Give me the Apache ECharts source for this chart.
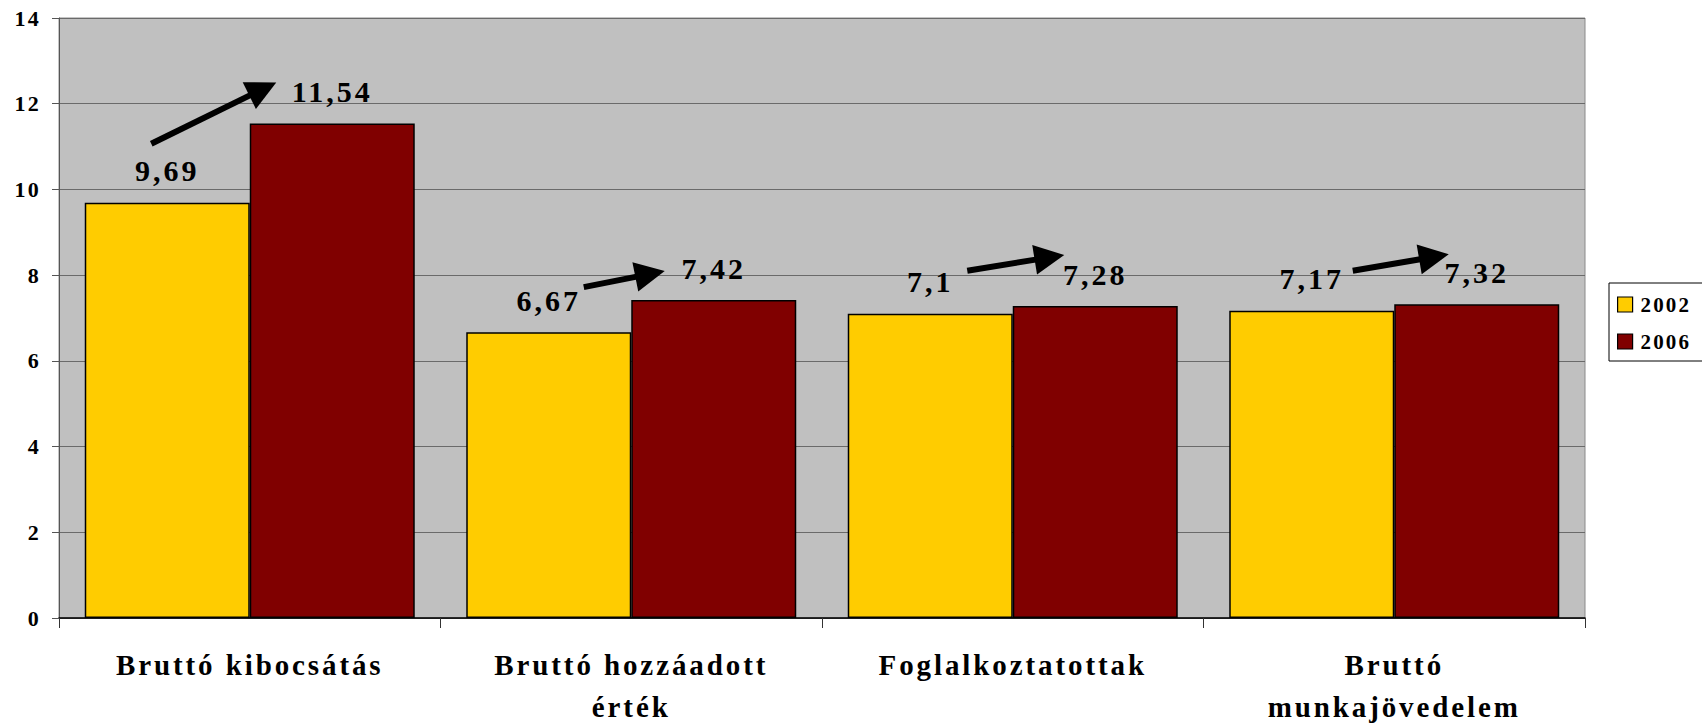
<!DOCTYPE html>
<html>
<head>
<meta charset="utf-8">
<script src="https://cdn.jsdelivr.net/npm/echarts@6/dist/echarts.min.js"></script>
<style>
  html, body { margin: 0; padding: 0; background: #ffffff; }
  #chart { width: 1702px; height: 728px; }
  #chart text { letter-spacing: 0.1em; }
</style>
</head>
<body>
<div id="chart"></div>
<script>
// ---- data ----
const categories = ['Bruttó kibocsátás', 'Bruttó hozzáadott\nérték', 'Foglalkoztatottak', 'Bruttó\nmunkajövedelem'];
const seriesNames = ['2002', '2006'];
const values2002 = [9.69, 6.67, 7.1, 7.17];
const values2006 = [11.54, 7.42, 7.28, 7.32];
const yMin = 0, yMax = 14, yInterval = 2;

// ---- annotation arrow layout (pixel offsets from the bar tops) ----
const arrowLayout = [
  { tail: [-16, -59], tip: [-56, -41] },
  { tail: [35, -45],  tip: [-49, -29] },
  { tail: [37, -43],  tip: [-31, -51] },
  { tail: [41, -40],  tip: [-28, -50] }
];
const catGapPct = 13.5;

const FONT = 'Liberation Serif';
const fmt = v => String(v).replace('.', ',');

const chart = echarts.init(document.getElementById('chart'), null, { renderer: 'svg' });

const arrowData = categories.map((c, i) => [i, values2002[i], values2006[i]]);

function renderArrow(params, api) {
  const i = api.value(0);
  const band = api.size([1, 0])[0];
  const barW = band * (1 - catGapPct / 100) / 2;
  const pY = api.coord([i, api.value(1)]);
  const pR = api.coord([i, api.value(2)]);
  const lay = arrowLayout[i];
  const S = [pY[0] - barW / 2 + lay.tail[0], pY[1] + lay.tail[1]];
  const T = [pR[0] + barW / 2 + lay.tip[0], pR[1] + lay.tip[1]];
  const dx = T[0] - S[0], dy = T[1] - S[1];
  const len = Math.sqrt(dx * dx + dy * dy);
  const ux = dx / len, uy = dy / len;
  const L = 30, W = 15;
  const B = [T[0] - L * ux, T[1] - L * uy];
  const nx = -uy, ny = ux;
  return {
    type: 'group',
    children: [
      { type: 'line', shape: { x1: S[0], y1: S[1], x2: B[0] + 4 * ux, y2: B[1] + 4 * uy },
        style: { stroke: '#000', lineWidth: 6 } },
      { type: 'polygon', shape: { points: [T, [B[0] + W * nx, B[1] + W * ny], [B[0] - W * nx, B[1] - W * ny]] },
        style: { fill: '#000' } }
    ]
  };
}

const option = {
  animation: false,
  backgroundColor: '#ffffff',
  grid: {
    left: 59, right: 117, top: 18, bottom: 105,
    show: true, backgroundColor: '#c0c0c0', borderColor: '#8a8a8a', borderWidth: 1
  },
  legend: {
    orient: 'vertical',
    left: 1609, top: 283,
    padding: [11, 20, 9, 8],
    itemWidth: 15, itemHeight: 15, itemGap: 16,
    backgroundColor: '#ffffff', borderColor: '#000000', borderWidth: 1, borderRadius: 0,
    icon: 'rect',
    itemStyle: { borderColor: '#000', borderWidth: 1.2 },
    textStyle: { fontFamily: FONT, fontWeight: 'bold', fontSize: 21, color: '#000', padding: [0, 0, 0, 3] },
    data: seriesNames
  },
  xAxis: {
    type: 'category',
    data: categories,
    axisLine: { show: true, lineStyle: { color: '#000', width: 1.5 } },
    axisTick: { show: true, length: 10, lineStyle: { color: '#333', width: 1 } },
    axisLabel: {
      fontFamily: FONT, fontWeight: 'bold', fontSize: 29, color: '#000',
      margin: 26, lineHeight: 42, interval: 0
    },
    splitLine: { show: false }
  },
  yAxis: {
    type: 'value',
    min: yMin, max: yMax, interval: yInterval,
    axisLine: { show: true, lineStyle: { color: '#555', width: 1 } },
    axisTick: { show: true, length: 7, lineStyle: { color: '#555', width: 1 } },
    axisLabel: { fontFamily: FONT, fontWeight: 'bold', fontSize: 22, color: '#000', margin: 18 },
    splitLine: { show: true, lineStyle: { color: '#6a6a6a', width: 1 } }
  },
  series: [
    {
      name: seriesNames[0], type: 'bar', data: values2002,
      barGap: '0%', barCategoryGap: catGapPct + '%',
      itemStyle: { color: '#ffcc00', borderColor: '#000', borderWidth: 1.5 },
      label: {
        show: true, position: 'top', distance: 17, formatter: p => fmt(p.value),
        fontFamily: FONT, fontWeight: 'bold', fontSize: 30, color: '#000'
      }
    },
    {
      name: seriesNames[1], type: 'bar', data: values2006,
      barGap: '0%', barCategoryGap: catGapPct + '%',
      itemStyle: { color: '#800000', borderColor: '#000', borderWidth: 1.5 },
      label: {
        show: true, position: 'top', distance: 17, formatter: p => fmt(p.value),
        fontFamily: FONT, fontWeight: 'bold', fontSize: 30, color: '#000'
      }
    },
    {
      name: 'arrows', type: 'custom', data: arrowData,
      encode: { x: 0, y: 1 }, renderItem: renderArrow, clip: false, z: 5, silent: true
    }
  ]
};
chart.setOption(option);
</script>
</body>
</html>
